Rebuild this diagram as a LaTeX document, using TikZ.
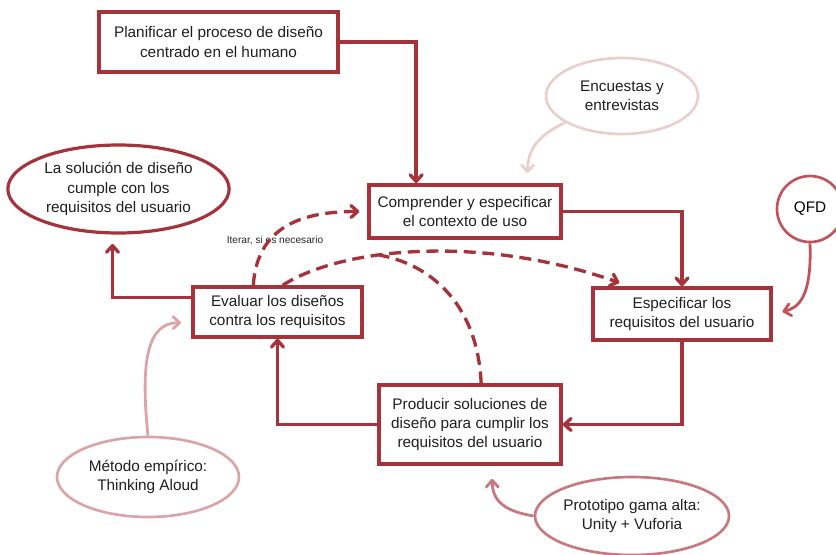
\documentclass[tikz,border=0pt]{standalone}
\usepackage{fontspec}
\setmainfont{Liberation Sans}
\usepackage{xcolor}
\usetikzlibrary{arrows.meta, shapes.geometric, calc}

\definecolor{rojo}{HTML}{A5333B}
\definecolor{encuestasc}{HTML}{EACFCF}
\definecolor{qfdc}{HTML}{C0545C}
\definecolor{metodoc}{HTML}{DAA5A8}
\definecolor{prototipoc}{HTML}{C87880}

\begin{document}
\begin{tikzpicture}[
  x=0.75pt, y=-0.75pt,
  font=\fontsize{11.5}{14.5}\selectfont,
  paso/.style={
    rectangle,
    draw=rojo,
    line width=2.6pt,
    align=center,
    text=black!88,
    inner sep=2pt
  },
  meta/.style={ellipse, draw=rojo, line width=2.4pt, align=center, text=black!88, inner sep=0pt},
  nota/.style={ellipse, line width=2pt, align=center, text=black!88, inner sep=0pt},
  flecha/.style={-{Straight Barb[round, length=5pt, width=9pt]}, rojo, line width=2.5pt},
  iterar/.style={flecha, dash pattern=on 9pt off 5pt},
  apoyo/.style={-{Straight Barb[round, length=5pt, width=9pt]}, line width=2.1pt}
]
  \useasboundingbox (0,0) rectangle (836,554);

  % Nodes
  \node (plan) [paso, minimum width=179pt, minimum height=45pt] at (218.5,42) {Planificar el proceso de diseño\\centrado en el humano};
  \node (contexto) [paso, minimum width=144pt, minimum height=40pt] at (465,211.5) {Comprender y especificar\\el contexto de uso};
  \node (requisitos) [paso, minimum width=133.5pt, minimum height=39pt] at (682,314) {Especificar los\\requisitos del usuario};
  \node (producir) [paso, minimum width=136.5pt, minimum height=59pt] at (470,424.5) {Producir soluciones de\\diseño para cumplir los\\requisitos del usuario};
  \node (evaluar) [paso, minimum width=127pt, minimum height=37.5pt] at (277.5,312) {Evaluar los diseños\\contra los requisitos};

  \node (solucion) [meta, minimum width=166pt, minimum height=66pt] at (118.5,189) {La solución de diseño\\cumple con los\\requisitos del usuario};
  \node (encuestas) [nota, draw=encuestasc, minimum width=114pt, minimum height=57pt] at (622,96) {Encuestas y\\entrevistas};
  \node (qfd) [circle, draw=qfdc, line width=2pt, minimum size=49.5pt, inner sep=0pt] at (810,209) {QFD};
  \node (metodo) [nota, draw=metodoc, minimum width=136.5pt, minimum height=60pt] at (148,477) {Método empírico:\\Thinking Aloud};
  \node (prototipo) [nota, draw=prototipoc, minimum width=136.5pt, minimum height=58.5pt] at (632,516) {Prototipo gama alta:\\Unity + Vuforia};

  \node (etiqueta) at (275,240) [font=\fontsize{7.6}{9}\selectfont, text=black!85] {Iterar, si es necesario};

  % Arrows
  \draw [flecha] (plan.east) -| ($(contexto.north west)!0.25!(contexto.north east)$);
  \draw [flecha] (contexto.east) -| (requisitos.north);
  \draw [flecha] (requisitos.south) |- (producir.east);
  \draw [flecha] (producir.west) -| (evaluar.south);
  \draw [flecha, shorten >=7pt] ([yshift=11pt]evaluar.west) -| ([xshift=-4.5pt]solucion.south);

  % Iteration (dashed)
  \draw [iterar, shorten >=6pt] ($(evaluar.north west)!0.36!(evaluar.north east)$) .. controls +(4,-62) and +(-60,0) .. (contexto.west);
  \draw [iterar, shorten >=8pt] ($(evaluar.north west)!0.53!(evaluar.north east)$) .. controls +(57,-37) and +(-150,-53) .. ($(requisitos.north west)!0.21!(requisitos.north east)$) coordinate[pos=0.38] (cruce);
  \draw [iterar, -] ($(producir.north west)!0.56!(producir.north east)$) .. controls +(-3,-75) and +(55,10) .. (cruce);

  % Methods
  \draw [apoyo, encuestasc, shorten >=7.5pt] (encuestas.205) .. controls +(-25,12) and +(0,-35) .. ($(contexto.north west)!0.82!(contexto.north east)$);
  \draw [apoyo, qfdc, shorten >=7.5pt] (qfd.south) .. controls +(2,55) and +(25,-6) .. (requisitos.east);
  \draw [apoyo, metodoc, shorten >=7.5pt] (metodo.north) .. controls +(-8,-77) and +(-43,0) .. ([yshift=-8pt]evaluar.west);
  \draw [apoyo, prototipoc, shorten >=10pt] (prototipo.west) .. controls +(-30,-5) and +(0,35) .. ($(producir.south west)!0.62!(producir.south east)$);

\end{tikzpicture}
\end{document}
